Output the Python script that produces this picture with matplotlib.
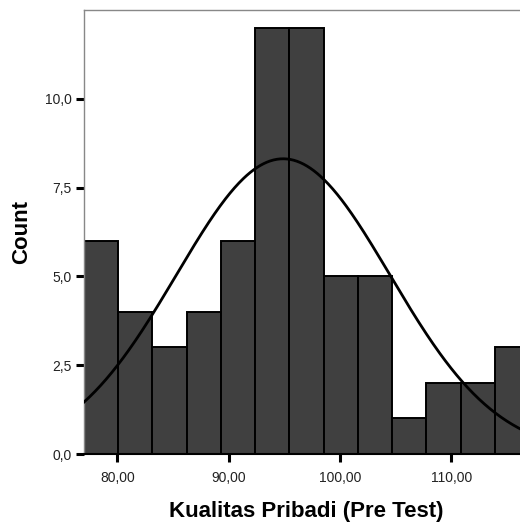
import numpy as np
import matplotlib
matplotlib.use("Agg")
import matplotlib.pyplot as plt

plt.rcParams['font.family'] = ['Liberation Sans', 'DejaVu Sans']

# Data
bin_start = 77.0
bin_end = 117.0
counts = [6, 4, 3, 4, 6, 12, 12, 5, 5, 1, 2, 2, 3]
mean_value = 94.9
std_value = 9.6
x_ticks = [80, 90, 100, 110]
x_tick_labels = ["80,00", "90,00", "100,00", "110,00"]
y_ticks = [0, 2.5, 5, 7.5, 10]
y_tick_labels = ["0,0", "2,5", "5,0", "7,5", "10,0"]
x_label = "Kualitas Pribadi (Pre Test)"
y_label = "Count"

edges = np.linspace(bin_start, bin_end, len(counts) + 1)
width = edges[1] - edges[0]
n_total = sum(counts)

fig = plt.figure(figsize=(5.2, 5.25), dpi=100)
ax = fig.add_axes([84 / 520, 71 / 525, 445 / 520, 444 / 525])

ax.bar(edges[:-1], counts, width=width, align='edge', color='#404040',
       edgecolor='black', linewidth=1.4, zorder=2)

xs = np.linspace(bin_start, bin_end, 400)
ys = n_total * width / (std_value * np.sqrt(2 * np.pi)) * np.exp(-0.5 * ((xs - mean_value) / std_value) ** 2)
ax.plot(xs, ys, color='black', linewidth=2.0, zorder=3)

ax.set_xlim(bin_start, bin_end)
ax.set_ylim(0, 12.5)

ax.set_xticks(x_ticks)
ax.set_xticklabels(x_tick_labels)
ax.set_yticks(y_ticks)
ax.set_yticklabels(y_tick_labels)
ax.tick_params(axis='both', direction='out', length=6, width=2.2, color='black',
               labelsize=10, labelcolor='#222222')
ax.tick_params(axis='x', pad=6)
ax.tick_params(axis='y', pad=3)

for side in ['left', 'top', 'right']:
    ax.spines[side].set_color('#888888')
    ax.spines[side].set_linewidth(1.0)
ax.spines['bottom'].set_color('black')
ax.spines['bottom'].set_linewidth(1.5)

ax.set_xlabel(x_label, fontsize=16, fontweight='bold', labelpad=12)
ax.set_ylabel(y_label, fontsize=16, fontweight='bold', labelpad=9)

fig.savefig('out.png', dpi=100)
